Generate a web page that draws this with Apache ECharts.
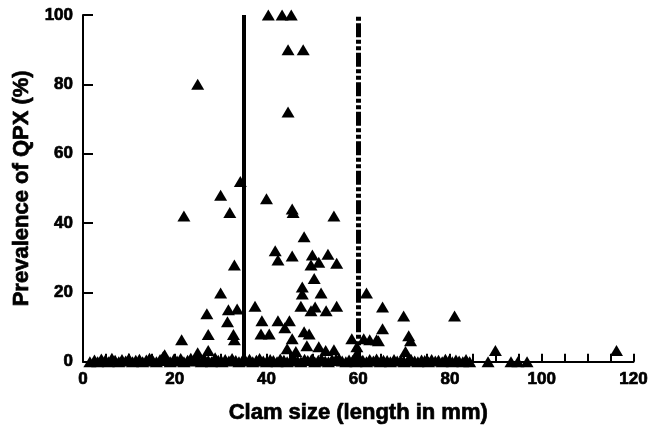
<!DOCTYPE html>
<html>
<head>
<meta charset="utf-8">
<script src="https://cdn.jsdelivr.net/npm/echarts@6/dist/echarts.min.js"></script>
<style>html,body{margin:0;padding:0;background:#fff;}#c{width:651px;height:429px;}</style>
</head>
<body>
<div id="c"></div>
<script>
// Clam size (mm) and QPX prevalence (%) for positive samples
var clamSize = [40.4,43.4,45.4,44.7,48,25,44.7,34.3,30,40,22,32,45.6,45.8,54.7,48.2,
  41.9,42.5,45.6,50,53.4,55.3,49.7,51.4,33,50.4,47.8,47.8,51.9,30,61.8,
  27,31.7,33.6,37.5,47.5,49.7,50.6,53,55.3,65.3,69.9,81,
  39,42.5,45,44,31.5,65.3,
  27.3,32.8,33,21.5,38.8,40.6,48.2,49.3,45.6,58.6,61.2,62.5,64,71,71.4,64.4,
  44.5,46.4,48.8,51.4,52.9,54.7,59.7,59.7,17.8,25,27.3,70.3,89.9,116.3];
var prevalence = [100,100,100,90,90,80,72,52,48,47,42,43,44,43,42,36,
  32,29.3,30.5,30.8,31,28.4,27.9,28.7,27.9,24,21.5,19.5,19.8,19.8,19.8,
  13.8,15,15.2,16,16,14.7,15.8,14.7,16,15.8,13.2,13.2,
  11.8,11.8,11.8,9.8,11.5,9.5,
  7.8,7.8,6.3,6.3,8,8,8.6,8,6.6,6.6,6.6,6.3,6.3,7.5,6,6,
  3.7,2.9,4.6,4.3,3.2,3.4,4.3,2.3,2,2.6,3.2,2.9,3.2,3.2];
// Near-zero samples
var clamSizeLow = [1.5,2.5,3.2,4,4.8,5.5,6.3,7,7.8,8.5,9.3,10,10.8,11.5,12.3,13,13.8,14.5,15.3,16,
  16.8,17.5,18.3,19,19.8,20.5,21.3,22,22.8,23.5,24.3,25,25.8,26.5,27.3,28,28.8,29.5,30.3,31,
  31.8,32.5,33.3,34,34.8,35.5,36.3,37,37.8,38.5,39.3,40,40.8,41.5,42.3,43,43.8,44.5,45.3,46,
  46.8,47.5,48.3,49,49.8,50.5,51.3,52,52.8,53.5,54.3,55,55.8,56.5,57.3,58,58.8,59.5,60.3,61,
  61.8,62.5,63.3,64,64.8,65.5,66.3,67,67.8,68.5,69.3,70,70.8,71.5,72.3,73,73.8,74.5,75.3,76,
  76.8,77.5,78.3,79,79.8,80.5,81.3,82,82.8,83.5,84.3,88.3,93.3,94.8,96.8];
var prevalenceLow = [0,0.5,0,0.8,0.3,0,1,0.4,0,0.6,0.2,0.9,0,0.4,0.7,0,0.5,1,0.2,0,
  0.6,1.5,0.3,0,0.7,0.2,0.9,0,0.4,1,0.2,0.6,0,0.8,0.3,0,1.1,0.4,0,0.6,
  0.2,0.9,0.3,0,0.5,0.2,0.7,0,0.4,0.9,0.2,0,0.6,0.3,0,0.8,0.4,0,0.5,0.9,
  0.2,0,0.7,0.3,0.6,0,0.4,0.8,0.2,0,0.6,0.3,0.9,0.2,0,0.5,0.3,0,0.7,0.4,
  0,0.6,0.2,0.8,0,0.4,0.3,0,0.6,0.2,0.5,0,0.3,0.7,0.2,0,0.5,0.3,0,0.6,
  0.2,0.4,0,0.7,0.3,0,0.5,0.2,0,0.6,0,0,0,0,0];
var xTicks = [0,20,40,60,80,100,120];
var yTicks = [0,20,40,60,80,100];
var cutoffSolid = 35, cutoffDash = 60;

var pts = clamSize.map(function(x,i){return [x, prevalence[i]];});
var low = clamSizeLow.map(function(x,i){return [x, prevalenceLow[i]];});
var font = '"Liberation Sans", Arial, sans-serif';
var heavy = {fontFamily:font,fontWeight:'bold',color:'#000',textBorderColor:'#000',textBorderWidth:0.7};
function t(extra){var o={};for(var k in heavy)o[k]=heavy[k];for(var k2 in extra)o[k2]=extra[k2];return o;}
var chart = echarts.init(document.getElementById('c'));
chart.setOption({
  animation:false,
  backgroundColor:'#fff',
  grid:{left:83,right:15,top:15,bottom:66},
  xAxis:{type:'value',min:0,max:120,interval:20,
    name:'Clam size (length in mm)',nameLocation:'middle',nameGap:40,
    nameTextStyle:t({fontSize:22}),
    axisLine:{lineStyle:{color:'#000',width:2}},
    axisTick:{inside:true,length:8,lineStyle:{color:'#000',width:2}},
    minorTick:{show:true,splitNumber:4,length:8,lineStyle:{color:'#000',width:2}},
    axisLabel:t({fontSize:17,margin:9}),
    splitLine:{show:false}},
  yAxis:{type:'value',min:0,max:100,interval:20,
    name:'Prevalence of QPX (%)',nameLocation:'middle',nameGap:27,
    nameTextStyle:t({fontSize:22}),
    axisLine:{show:true,lineStyle:{color:'#000',width:2}},
    axisTick:{show:true,inside:true,length:10,lineStyle:{color:'#000',width:2}},
    axisLabel:t({fontSize:17,margin:10}),
    splitLine:{show:false}},
  series:[
    {type:'line',data:[],z:1,silent:true,
     markLine:{symbol:'none',silent:true,label:{show:false},animation:false,
       data:[
         [{coord:[cutoffSolid,0]},{coord:[cutoffSolid,100]}],
         [{coord:[cutoffDash,0],lineStyle:{type:[14,2.5,4,2.5,4,2.5],width:5,color:'#000'}},{coord:[cutoffDash,100]}]
       ],
       lineStyle:{color:'#000',width:4,type:'solid'}}},
    {type:'scatter',data:low,symbol:'triangle',symbolSize:[13,11],clip:false,z:3,
     itemStyle:{color:'#000',opacity:1}},
    {type:'scatter',data:pts,symbol:'triangle',symbolSize:[13,11],clip:false,z:3,
     itemStyle:{color:'#000',opacity:1}}
  ]
});
</script>
</body>
</html>
